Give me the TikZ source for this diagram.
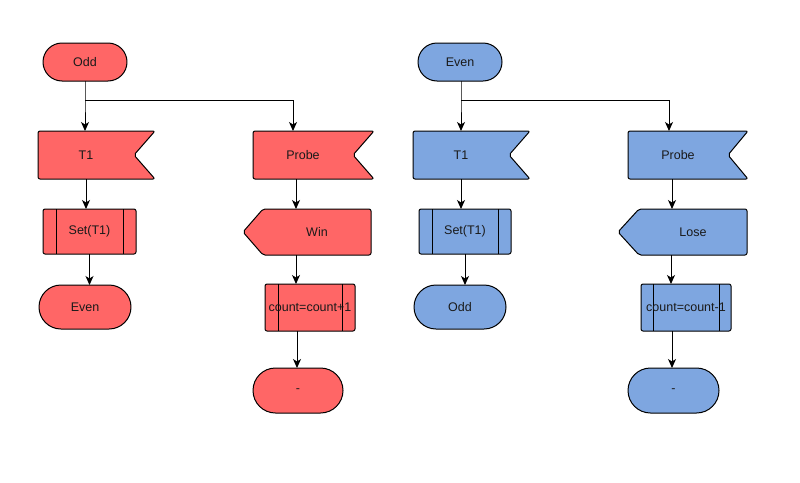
\documentclass[tikz,border=0pt]{standalone}
\usepackage{fontspec}
\setmainfont{Liberation Sans}
\usetikzlibrary{arrows.meta}
\definecolor{redf}{HTML}{FF6666}
\definecolor{bluef}{HTML}{7EA6E0}
\definecolor{txt}{HTML}{1A1A1A}
\tikzset{
 shp/.style={draw=black, line width=1pt, line join=round},
 lbl/.style={inner sep=0pt, outer sep=0pt, text=txt, font=\fontsize{12.5}{15}\selectfont},
 arr/.style={draw=black, line width=1pt, -{Stealth[length=9pt,width=8pt,inset=2.5pt]}},
}
% terminal: name, x1, x2, y1, y2, text, fill
\newcommand\Term[7]{%
 \draw[shp,fill=#7,rounded corners={(#5-#4)/2}] (#2,#4) rectangle (#3,#5);
 \node[lbl,minimum width={(#3-#2)*1pt},minimum height={(#5-#4)*1pt}] (#1) at ({(#2+#3)/2},{(#4+#5)/2}) {#6};}
% flag with notch on right: name, x1, x2, y1, y2, d, text, fill
\newcommand\Flag[8]{%
 \draw[shp,fill=#8,rounded corners=2] (#3,#4) -- ({#3-#6},{(#4+#5)/2}) -- (#3,#5) -- (#2,#5) -- (#2,#4) -- cycle;
 \node[lbl,minimum width={(#3-#6-#2)*1pt},minimum height={(#5-#4)*1pt}] (#1) at ({(#2+#3-#6)/2},{(#4+#5)/2}) {#7};}
% pointer on left: name, xtip, x2, y1, y2, d, text, fill
\newcommand\Pointer[8]{%
 \draw[shp,fill=#8,rounded corners=2] (#2,{(#4+#5)/2}) -- ({#2+#6},#4) -- (#3,#4) -- (#3,#5) -- ({#2+#6},#5) -- cycle;
 \node[lbl,minimum width={(#3-#2-#6)*1pt},minimum height={(#5-#4)*1pt}] (#1) at ({(#2+#6+#3)/2},{(#4+#5)/2}) {#7};}
% subprocess: name, x1, x2, y1, y2, inset, text, fill
\newcommand\Sub[8]{%
 \draw[shp,fill=#8,rounded corners=2] (#2,#4) rectangle (#3,#5);
 \draw[shp] ({#2+#6},#4) -- ({#2+#6},#5);
 \draw[shp] ({#3-#6},#4) -- ({#3-#6},#5);
 \node[lbl,minimum width={(#3-#2)*1pt},minimum height={(#5-#4)*1pt}] (#1) at ({(#2+#3)/2},{(#4+#5)/2}) {#7};}

\begin{document}
\begin{tikzpicture}[x=1pt,y=-1pt]
\fill[white] (0,0) rectangle (800,482);
\useasboundingbox (0,0) rectangle (800,482);

% ---------- red (Odd) ----------
\Term{O1}{43}{127}{43}{81}{Odd}{redf}
\Flag{T1a}{38}{155}{131}{179}{21}{T1}{redf}
\Flag{P1}{253}{374}{131}{179}{21}{Probe}{redf}
\Sub{S1}{43}{136}{209}{254}{13}{Set(T1)}{redf}
\Term{E1}{39}{131}{285}{329}{Even}{redf}
\Pointer{W1}{243}{371}{209}{255}{20}{Win}{redf}
\Sub{C1}{265}{355}{284}{331}{13}{count=count+1}{redf}
\Term{D1}{253}{343}{368}{413}{-}{redf}

\coordinate (br1) at (85,100);
\coordinate (br1b) at (293,100);
\draw[arr] (O1.south) -- (br1) -- (br1 |- T1a.north);
\draw[arr] (br1) -- (br1b) -- (br1b |- P1.north);
\draw[arr] (T1a.south) -- (T1a.south |- S1.north);
\draw[arr] (S1.south) -- (S1.south |- E1.north);
\draw[arr] ([xshift=-7]P1.south) -- ([xshift=-7]P1.south |- W1.north);
\draw[arr] ([xshift=-21]W1.south) -- ([xshift=-21]W1.south |- C1.north);
\draw[arr] ([xshift=-13]C1.south) -- ([xshift=-13]C1.south |- D1.north);

% ---------- blue (Even) ----------
\Term{E2}{418}{502}{43}{81}{Even}{bluef}
\Flag{T1b}{413}{530}{131}{179}{21}{T1}{bluef}
\Flag{P2}{628}{748}{131}{179}{20}{Probe}{bluef}
\Sub{S2}{419}{511}{209}{254}{13}{Set(T1)}{bluef}
\Term{O2}{414}{506}{285}{329}{Odd}{bluef}
\Pointer{L2}{618}{747}{209}{255}{21}{Lose}{bluef}
\Sub{C2}{641}{731}{284}{331}{12}{count=count-1}{bluef}
\Term{D2}{628}{719}{368}{413}{-}{bluef}

\coordinate (br2) at (461,100);
\coordinate (br2b) at (669,100);
\draw[arr] ([xshift=1]E2.south) -- (br2) -- (br2 |- T1b.north);
\draw[arr] (br2) -- (br2b) -- (br2b |- P2.north);
\draw[arr] (T1b.south) -- (T1b.south |- S2.north);
\draw[arr] (S2.south) -- (S2.south |- O2.north);
\draw[arr] ([xshift=-6]P2.south) -- ([xshift=-6]P2.south |- L2.north);
\draw[arr] ([xshift=-22]L2.south) -- ([xshift=-22]L2.south |- C2.north);
\draw[arr] ([xshift=-14]C2.south) -- ([xshift=-14]C2.south |- D2.north);
\end{tikzpicture}
\end{document}
